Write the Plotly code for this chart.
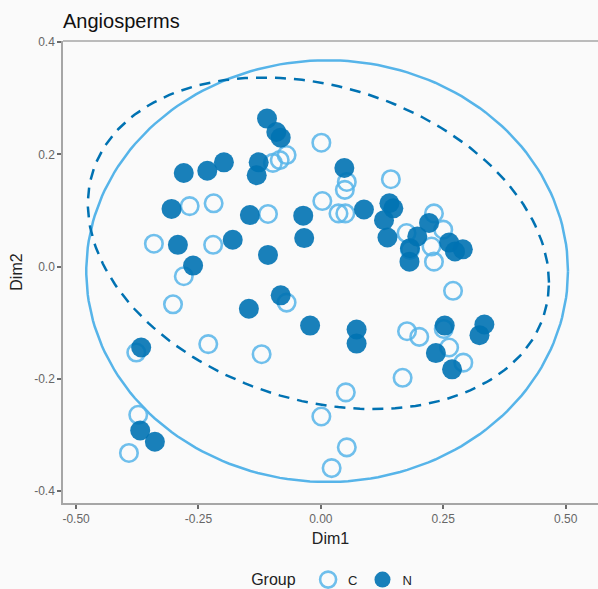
import numpy as np
import plotly.graph_objects as go

# Ordination scores (Dim1, Dim2) per group
c_dim1 = [-0.098, -0.084, -0.070, -0.268, -0.219, -0.108, -0.341, -0.220, -0.280, -0.302,
          -0.070, -0.377, -0.230, -0.121, -0.373, -0.392, 0.001, 0.053, 0.049, 0.143,
          0.003, 0.036, 0.050, 0.231, 0.250, 0.175, 0.182, 0.226, 0.231, 0.270,
          0.176, 0.201, 0.251, 0.262, 0.291, 0.167, 0.051, 0.001, 0.053, 0.022]
c_dim2 = [0.185, 0.190, 0.199, 0.108, 0.113, 0.094, 0.041, 0.039, -0.017, -0.067,
          -0.064, -0.153, -0.138, -0.156, -0.264, -0.332, 0.221, 0.151, 0.137, 0.156,
          0.117, 0.095, 0.095, 0.095, 0.066, 0.060, 0.030, 0.036, 0.009, -0.043,
          -0.115, -0.125, -0.111, -0.144, -0.171, -0.198, -0.224, -0.267, -0.322, -0.359]

n_dim1 = [-0.110, -0.091, -0.082, -0.280, -0.232, -0.198, -0.127, -0.131, -0.305, -0.145,
          -0.036, -0.034, -0.292, -0.180, -0.108, -0.261, -0.147, -0.082, -0.022, -0.367,
          -0.369, -0.339, 0.048, 0.088, 0.140, 0.148, 0.129, 0.136, 0.221, 0.197,
          0.182, 0.181, 0.262, 0.274, 0.290, 0.073, 0.073, 0.253, 0.235, 0.268,
          0.334, 0.324]
n_dim2 = [0.264, 0.240, 0.230, 0.167, 0.171, 0.186, 0.186, 0.163, 0.103, 0.092,
          0.091, 0.051, 0.039, 0.048, 0.021, 0.002, -0.075, -0.051, -0.105, -0.144,
          -0.292, -0.312, 0.176, 0.102, 0.113, 0.104, 0.083, 0.052, 0.078, 0.054,
          0.033, 0.009, 0.043, 0.027, 0.031, -0.112, -0.137, -0.105, -0.154, -0.183,
          -0.103, -0.122]

# Confidence ellipse parameters: centre and shape (covariance-like) matrix
c_centre = [0.0128, -0.0079]
c_shape = [[0.492 ** 2, 0.0], [0.0, 0.3758 ** 2]]
n_centre = [-0.005, 0.0418]
n_shape = [[0.471 ** 2, -0.033], [-0.033, 0.2955 ** 2]]

x_ticks = [-0.50, -0.25, 0.00, 0.25, 0.50]
y_ticks = [-0.4, -0.2, 0.0, 0.2, 0.4]

COL_C = "#56B4E9"
COL_N = "#0072B2"
FONT = "Liberation Sans, Arial, sans-serif"


def ellipse_path(centre, shape, n=200):
    t = np.linspace(0, 2 * np.pi, n)
    L = np.linalg.cholesky(np.array(shape))
    pts = L @ np.vstack([np.cos(t), np.sin(t)])
    return pts[0] + centre[0], pts[1] + centre[1]


fig = go.Figure()

ex, ey = ellipse_path(c_centre, c_shape)
fig.add_trace(go.Scatter(x=ex, y=ey, mode="lines", showlegend=False, hoverinfo="skip",
                         line=dict(color=COL_C, width=2.5)))
ex, ey = ellipse_path(n_centre, n_shape)
fig.add_trace(go.Scatter(x=ex, y=ey, mode="lines", showlegend=False, hoverinfo="skip",
                         line=dict(color=COL_N, width=2.5, dash="11px,8px")))

fig.add_trace(go.Scatter(
    x=c_dim1, y=c_dim2, mode="markers", name="C",
    marker=dict(symbol="circle-open", size=17.5, color=COL_C, opacity=0.85,
                line=dict(width=2.6, color=COL_C)),
))
fig.add_trace(go.Scatter(
    x=n_dim1, y=n_dim2, mode="markers", name="N",
    marker=dict(symbol="circle", size=20, color=COL_N, opacity=0.9,
                line=dict(width=0)),
))

axis_common = dict(
    showgrid=False, zeroline=False, showline=True, linecolor="#a6a6a6", linewidth=1.5,
    ticks="outside", ticklen=4, tickwidth=1.5, tickcolor="#6b6b6b",
    tickfont=dict(family=FONT, size=12, color="#666666"),
    title_font=dict(family=FONT, size=16, color="#222222"),
    automargin=False,
)

fig.update_layout(
    width=598, height=589,
    margin=dict(l=63, r=0, t=41, b=86, autoexpand=False),
    paper_bgcolor="#fafafa", plot_bgcolor="#fafafa",
    title=dict(text="Angiosperms", x=63 / 598, xanchor="left", y=1 - 21 / 589, yanchor="middle",
               font=dict(family=FONT, size=20, color="#111111")),
    xaxis=dict(range=[-0.5267, 0.5661], tickvals=x_ticks,
               ticktext=[f"{v:.2f}" for v in x_ticks], title=dict(text="Dim1", standoff=8),
               **axis_common),
    yaxis=dict(range=[-0.4212, 0.4023], tickvals=y_ticks,
               ticktext=[f"{v:.1f}" for v in y_ticks], title=dict(text="Dim2", standoff=8),
               **axis_common),
    legend=dict(orientation="h", x=0.505, xanchor="center", y=-0.167, yanchor="middle",
                title=dict(text="Group ", font=dict(family=FONT, size=16, color="#222222")),
                font=dict(family=FONT, size=13, color="#222222"),
                itemwidth=30, bgcolor="rgba(0,0,0,0)"),
    showlegend=True,
)

# top border of the panel
fig.add_shape(type="line", xref="paper", yref="paper", x0=0, x1=1, y0=1, y1=1,
              line=dict(color="#a6a6a6", width=1.5))

fig.write_html("out.html")
